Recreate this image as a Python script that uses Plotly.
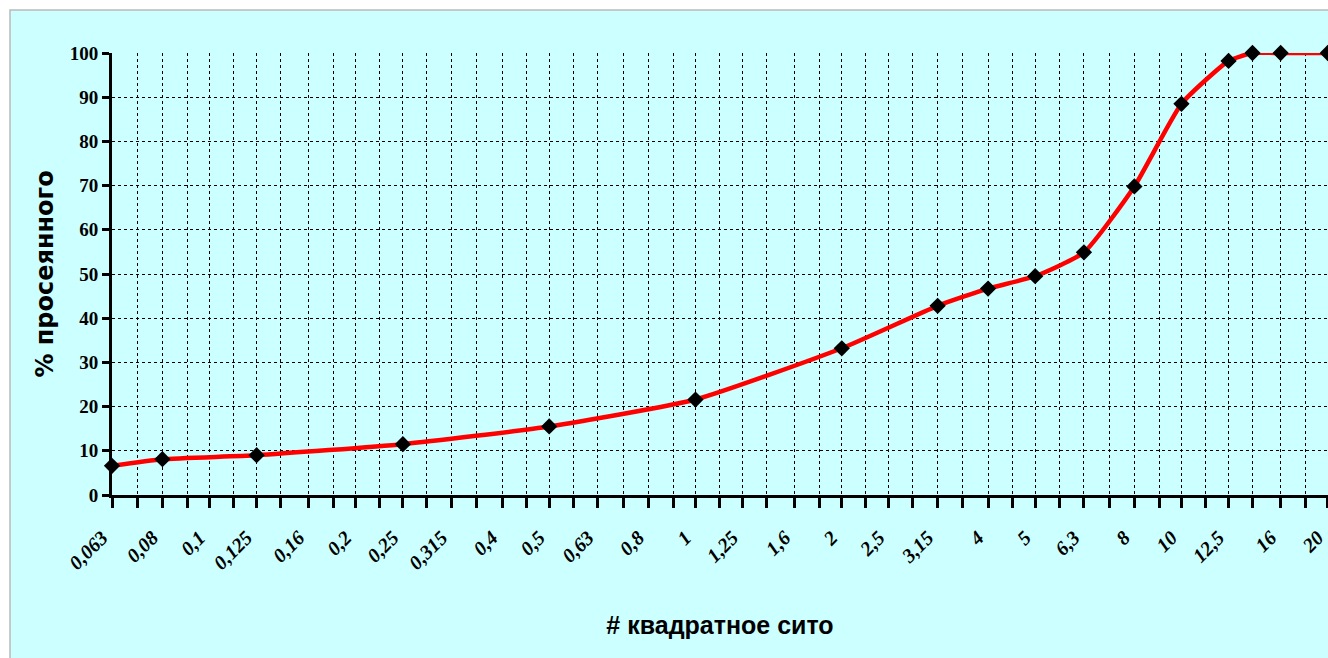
import math
import plotly.graph_objects as go

# Sieve sizes (mm) with measured points
sieve = [0.063, 0.08, 0.125, 0.25, 0.5, 1, 2, 3.15, 4, 5, 6.3, 8, 10, 12.5, 14, 16, 20]
passed = [6.6, 8.1, 9.0, 11.5, 15.5, 21.6, 33.2, 42.8, 46.7, 49.5, 54.9, 69.8, 88.5, 98.2, 100, 100, 100]

# Axis tick values (R20 grid) and labels (R10)
grid_vals = [0.063, 0.071, 0.08, 0.09, 0.1, 0.112, 0.125, 0.14, 0.16, 0.18, 0.2, 0.224,
             0.25, 0.28, 0.315, 0.355, 0.4, 0.45, 0.5, 0.56, 0.63, 0.71, 0.8, 0.9, 1,
             1.12, 1.25, 1.4, 1.6, 1.8, 2, 2.24, 2.5, 2.8, 3.15, 3.55, 4, 4.5, 5, 5.6,
             6.3, 7.1, 8, 9, 10, 11.2, 12.5, 14, 16, 18, 20]
label_vals = [0.063, 0.08, 0.1, 0.125, 0.16, 0.2, 0.25, 0.315, 0.4, 0.5, 0.63, 0.8, 1,
              1.25, 1.6, 2, 2.5, 3.15, 4, 5, 6.3, 8, 10, 12.5, 16, 20]
label_text = ["0,063", "0,08", "0,1", "0,125", "0,16", "0,2", "0,25", "0,315", "0,4", "0,5",
              "0,63", "0,8", "1", "1,25", "1,6", "2", "2,5", "3,15", "4", "5", "6,3", "8",
              "10", "12,5", "16", "20"]
y_ticks = [0, 10, 20, 30, 40, 50, 60, 70, 80, 90, 100]

tick_text = []
for v in grid_vals:
    tick_text.append(label_text[label_vals.index(v)] if v in label_vals else "")

xr = [math.log10(grid_vals[0]), math.log10(grid_vals[-1]) + 0.0005]

fig = go.Figure()
fig.add_trace(go.Scatter(
    x=sieve, y=passed, mode="lines+markers",
    line=dict(color="#FF0000", width=4.5, shape="spline", smoothing=0.5),
    marker=dict(symbol="diamond", size=12.5, color="black"),
    cliponaxis=False, showlegend=False, hoverinfo="x+y"))

grid = dict(gridcolor="black", gridwidth=1, griddash="3px,3px")

fig.update_layout(
    width=1328, height=658,
    margin=dict(l=112, r=0, t=53, b=163),
    paper_bgcolor="white", plot_bgcolor="rgba(0,0,0,0)",
    xaxis=dict(type="log", range=xr, tickmode="array", tickvals=grid_vals, ticktext=tick_text,
               tickangle=-45, showline=True, linecolor="black", linewidth=3,
               ticks="outside", ticklen=10, tickwidth=3, tickcolor="black",
               tickfont=dict(family="Liberation Serif", size=20, color="black",
                             weight="bold", style="italic"),
               ticklabelstandoff=10, ticklabelshift=-10,
               showgrid=True, zeroline=False,
               title=dict(text="# квадратное сито",
                          font=dict(family="Liberation Sans Narrow, Arial Narrow, Liberation Sans",
                                    size=25, color="black", weight="bold"),
                          standoff=44),
               **grid),
    yaxis=dict(range=[0, 100], tickmode="array", tickvals=y_ticks,
               showline=True, linecolor="black", linewidth=3,
               ticks="outside", ticklen=7, tickwidth=3, tickcolor="black",
               tickfont=dict(family="Liberation Serif", size=19, color="black", weight="bold"),
               showgrid=True, zeroline=False,
               title=dict(text="% просеянного",
                          font=dict(family="DejaVu Sans", size=24, color="black", weight="bold"),
                          standoff=10),
               **grid),
    xaxis2=dict(type="log", range=xr, overlaying="x", anchor="y", side="bottom",
                tickmode="array", tickvals=grid_vals, showticklabels=False,
                ticks="inside", ticklen=8, tickwidth=3, tickcolor="black",
                showgrid=False, showline=False, zeroline=False),
    yaxis2=dict(range=[0, 100], overlaying="y", anchor="x", side="left",
                tickmode="array", tickvals=y_ticks, showticklabels=False,
                ticks="inside", ticklen=6, tickwidth=3, tickcolor="black",
                showgrid=False, showline=False, zeroline=False),
    shapes=[dict(type="rect", xref="paper", yref="paper", layer="below",
                 x0=(10 - 112) / 1216, x1=1.05, y0=-0.5, y1=(495 - 10) / 442,
                 fillcolor="#CCFFFF", line=dict(color="#BBBBBB", width=1.5))],
)

fig.write_html("out.html", config={"displayModeBar": False},
               post_script="document.body.style.margin='0';document.body.style.overflow='hidden';")
